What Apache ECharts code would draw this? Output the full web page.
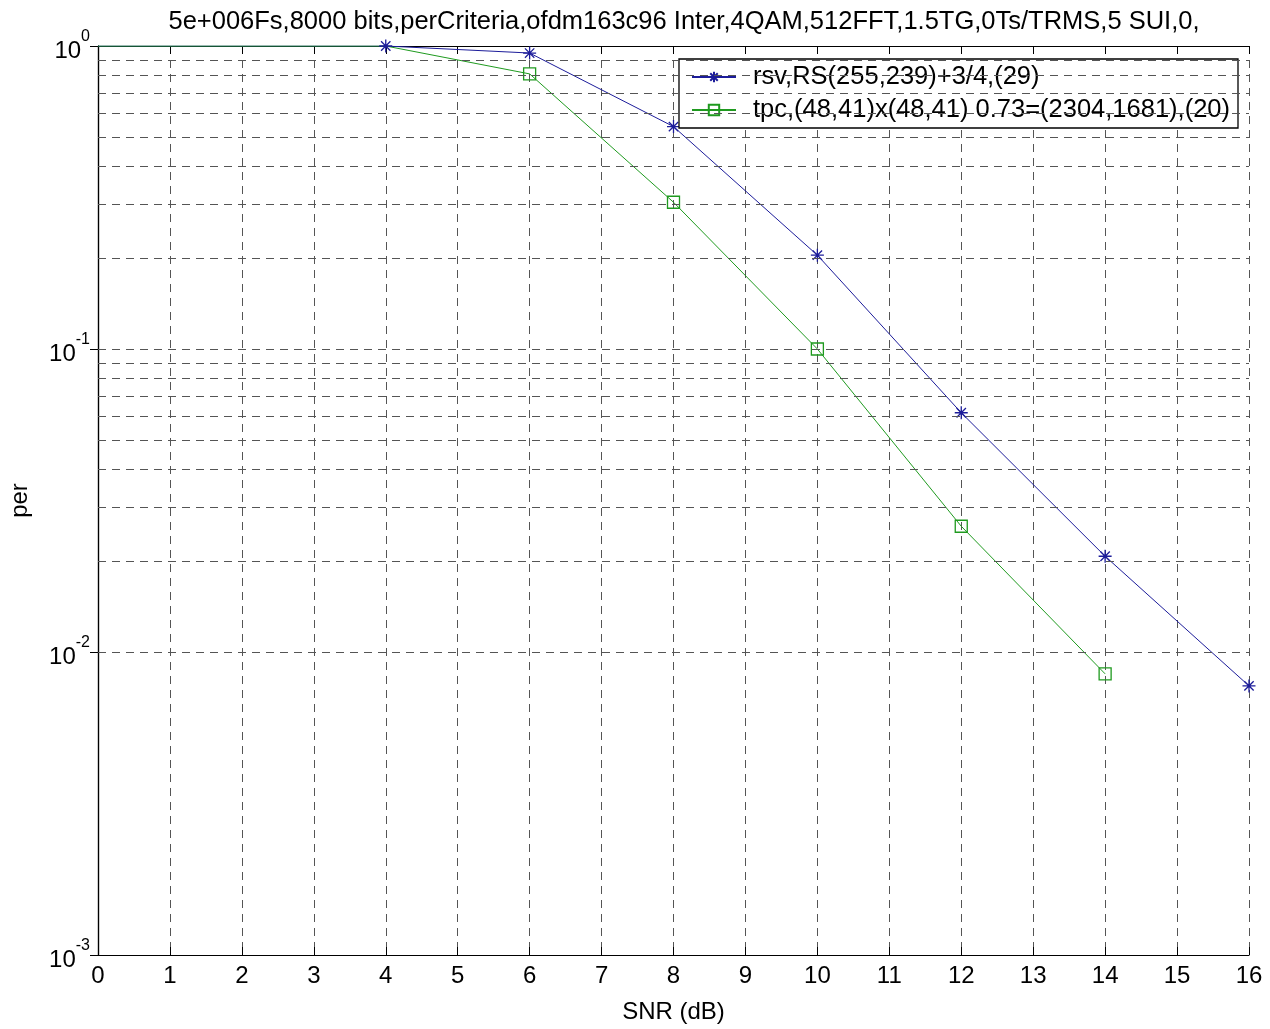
<!DOCTYPE html>
<html><head><meta charset="utf-8">
<script src="https://cdn.jsdelivr.net/npm/echarts@6/dist/echarts.min.js"></script>
<style>html,body{margin:0;padding:0;background:#fff}#c{width:1270px;height:1029px}</style>
</head><body><div id="c"></div>
<script>
const titleText = '5e+006Fs,8000 bits,perCriteria,ofdm163c96 Inter,4QAM,512FFT,1.5TG,0Ts/TRMS,5 SUI,0,';
const snr = [0, 2, 4, 6, 8, 10, 12, 14, 16];
const rsvPer = [1, 1, 1, 0.948, 0.542, 0.204, 0.0616, 0.0207, 0.00773];
const tpcSnr = [0, 2, 4, 6, 8, 10, 12, 14];
const tpcPer = [1, 1, 1, 0.809, 0.305, 0.1, 0.026, 0.00847];
const rsvMarkers = [false, false, true, true, true, true, true, true, true];
const tpcMarkers = [false, false, false, true, true, true, true, true];
const yTickLabels = {1: '0', 0.1: '-1', 0.01: '-2', 0.001: '-3'};
const gridMantissas = [1, 2, 3, 4, 5, 6, 7, 8, 9];
const gridDecades = [0.001, 0.01, 0.1];
const legendNames = ['rsv,RS(255,239)+3/4,(29)', 'tpc,(48,41)x(48,41) 0.73=(2304,1681),(20)'];

const FONT = 'Liberation Sans, Arial, sans-serif';
const blue = '#1c1c9a';
const green = '#1f9a1f';
const star = 'path://M0,-1L0,1M-1,0L1,0M-0.72,-0.72L0.72,0.72M-0.72,0.72L0.72,-0.72';
const square = 'path://M-1,-1L1,-1L1,1L-1,1Z';

const gridVals = [];
gridDecades.forEach(d => gridMantissas.forEach(m => { const v = +(d * m).toPrecision(3); if (v > 0.001 && v < 1) gridVals.push(v); }));

const chart = echarts.init(document.getElementById('c'), null, {renderer: 'canvas'});
chart.setOption({
  backgroundColor: '#fff',
  animation: false,
  title: {text: titleText, left: 679, textAlign: 'center', top: 4,
    textStyle: {fontFamily: FONT, fontSize: 25.5, fontWeight: 'normal', color: '#000'}},
  legend: {
    right: 32, top: 59, orient: 'vertical', itemGap: 7,
    backgroundColor: '#fff', borderColor: '#000', borderWidth: 1.3, borderRadius: 0,
    padding: [5, 8, 5, 12], itemWidth: 44, itemHeight: 13,
    textStyle: {fontFamily: FONT, fontSize: 25.5, color: '#000', padding: [0, 0, 0, 12]},
    data: legendNames
  },
  grid: {left: 96, right: 21, top: 46, bottom: 71, containLabel: false, show: false},
  xAxis: [{
    type: 'value', min: 0, max: 16, interval: 1, position: 'bottom',
    name: 'SNR (dB)', nameLocation: 'middle', nameGap: 45,
    nameTextStyle: {fontFamily: FONT, fontSize: 24, color: '#000'},
    axisLine: {lineStyle: {color: '#000', width: 1.2}},
    axisTick: {inside: true, length: 8, lineStyle: {color: '#000'}},
    axisLabel: {fontFamily: FONT, fontSize: 24, color: '#000', margin: 9},
    splitLine: {show: true, lineStyle: {color: '#555', type: [8, 6], width: 1}}
  }, {
    type: 'value', min: 0, max: 16, interval: 1, position: 'top',
    axisLine: {lineStyle: {color: '#000', width: 1.2}},
    axisTick: {inside: true, length: 8, lineStyle: {color: '#000'}},
    axisLabel: {show: false}, splitLine: {show: false}
  }],
  yAxis: [{
    type: 'log', logBase: 10, min: 0.001, max: 1, position: 'left',
    name: 'per', nameLocation: 'middle', nameGap: 66,
    nameTextStyle: {fontFamily: FONT, fontSize: 24, color: '#000'},
    axisLine: {show: true, lineStyle: {color: '#000', width: 1.2}},
    axisTick: {inside: true, length: 8, lineStyle: {color: '#000'}},
    axisLabel: {
      margin: 8, fontFamily: FONT, color: '#000',
      formatter: v => { const k = yTickLabels[+v.toPrecision(3)]; return k === undefined ? '' : '{b|10}{s|' + k + '}'; },
      rich: {b: {fontFamily: FONT, fontSize: 24, color: '#000', verticalAlign: 'bottom', padding: [6, 0, 0, 0]},
             s: {fontFamily: FONT, fontSize: 16, color: '#000', verticalAlign: 'top', padding: [0, 0, 18, 0]}}
    },
    splitLine: {show: false}
  }, {
    type: 'log', logBase: 10, min: 0.001, max: 1, position: 'right',
    axisLine: {show: true, lineStyle: {color: '#000', width: 1.2}},
    axisTick: {inside: true, length: 8, lineStyle: {color: '#000'}},
    axisLabel: {show: false}, splitLine: {show: false}
  }],
  series: [{
    name: 'grid', type: 'line', data: [], silent: true,
    markLine: {silent: true, symbol: 'none', label: {show: false},
      lineStyle: {color: '#555', type: [8, 6], width: 1},
      data: gridVals.map(v => ({yAxis: v}))}
  }, {
    name: legendNames[0], type: 'line', data: snr.map((x, i) => ({value: [x, rsvPer[i]], symbol: rsvMarkers[i] ? star : 'none'})),
    symbol: star, symbolSize: 13, showAllSymbol: true,
    itemStyle: {color: blue, borderColor: blue, borderWidth: 1.3},
    lineStyle: {color: blue, width: 1}
  }, {
    name: legendNames[1], type: 'line', data: tpcSnr.map((x, i) => ({value: [x, tpcPer[i]], symbol: tpcMarkers[i] ? square : 'none'})),
    symbol: square, symbolSize: 12, showAllSymbol: true,
    itemStyle: {color: 'rgba(0,0,0,0)', borderColor: green, borderWidth: 1.3},
    lineStyle: {color: green, width: 1}
  }]
});
</script></body></html>
